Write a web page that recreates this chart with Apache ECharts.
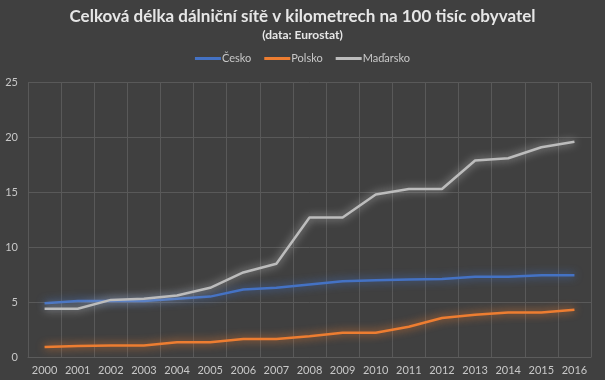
<!DOCTYPE html>
<html>
<head>
<meta charset="utf-8">
<script src="https://cdn.jsdelivr.net/npm/echarts@6/dist/echarts.min.js"></script>
<style>
html,body{margin:0;padding:0;background:#404040;}
#c{width:605px;height:380px;}
</style>
</head>
<body>
<div id="c"></div>
<script>
const years = ['2000','2001','2002','2003','2004','2005','2006','2007','2008','2009','2010','2011','2012','2013','2014','2015','2016'];
const cesko = [4.9, 5.1, 5.1, 5.1, 5.3, 5.5, 6.15, 6.3, 6.6, 6.9, 7.0, 7.05, 7.1, 7.3, 7.3, 7.45, 7.45];
const polsko = [0.9, 1.0, 1.05, 1.05, 1.35, 1.35, 1.65, 1.65, 1.9, 2.2, 2.2, 2.75, 3.55, 3.85, 4.05, 4.05, 4.3];
const madarsko = [4.4, 4.4, 5.2, 5.3, 5.6, 6.3, 7.7, 8.5, 12.7, 12.7, 14.8, 15.3, 15.3, 17.9, 18.1, 19.1, 19.6];
const yTicks = [0, 5, 10, 15, 20, 25];

const font = 'Lato, "Open Sans", sans-serif';
const chart = echarts.init(document.getElementById('c'));
function line(name, data, color) {
  return {
    name: name, type: 'line', data: data, symbol: 'none', smooth: false,
    lineStyle: {width: 2.5, color: color, shadowBlur: 8, shadowColor: color},
    itemStyle: {color: color}
  };
}
chart.setOption({
  backgroundColor: '#404040',
  animation: false,
  title: [{
    text: 'Celková délka dálniční sítě v kilometrech na 100 tisíc obyvatel',
    left: 'center', top: 3,
    textStyle: {color: '#e6e6e6', fontFamily: font, fontWeight: 'bold', fontSize: 17}
  }, {
    text: '(data: Eurostat)',
    left: 'center', top: 24,
    textStyle: {color: '#e6e6e6', fontFamily: font, fontWeight: 'bold', fontSize: 12}
  }],
  legend: {
    top: 48, left: 'center',
    icon: 'rect', itemWidth: 26, itemHeight: 3, itemGap: 13,
    textStyle: {color: '#c8c8c8', fontFamily: font, fontSize: 11, padding: [0,0,0,-4]},
    data: ['Česko', 'Polsko', 'Maďarsko']
  },
  grid: {left: 28, right: 14, top: 82.5, bottom: 23, containLabel: false},
  xAxis: {
    type: 'category', data: years, boundaryGap: true,
    axisLine: {show: true, lineStyle: {color: '#5c5c5c'}},
    axisTick: {show: false},
    axisLabel: {color: '#c8c8c8', fontFamily: font, fontSize: 11, margin: 8, interval: 0},
    splitLine: {show: true, interval: 0, lineStyle: {color: '#595959', width: 1}}
  },
  yAxis: {
    type: 'value', min: yTicks[0], max: yTicks[yTicks.length - 1], interval: 5,
    axisLine: {show: false}, axisTick: {show: false},
    axisLabel: {color: '#c8c8c8', fontFamily: font, fontSize: 11, margin: 10},
    splitLine: {show: true, lineStyle: {color: '#595959', width: 1}}
  },
  series: [
    line('Česko', cesko, '#4472c4'),
    line('Polsko', polsko, '#ed7d31'),
    line('Maďarsko', madarsko, '#bcbcbc')
  ]
});
</script>
</body>
</html>
